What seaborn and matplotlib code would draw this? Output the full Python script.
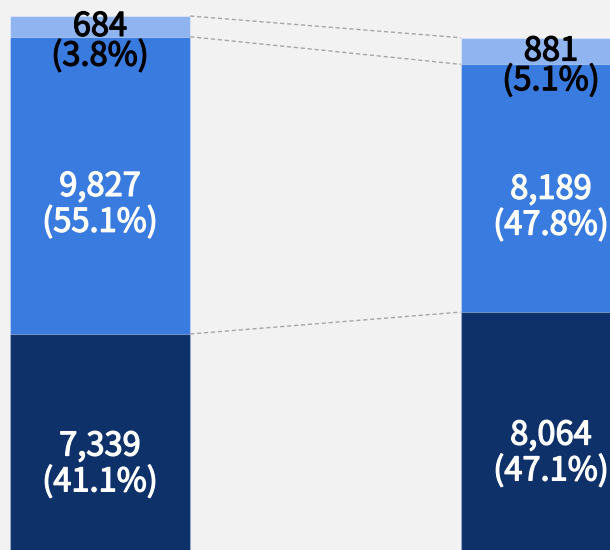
import numpy as np
import pandas as pd
import matplotlib
matplotlib.use('Agg')
import matplotlib.pyplot as plt
import matplotlib.patheffects as pe
import seaborn as sns

sns.set_style('white')
plt.rcParams['font.family'] = ['Noto Sans CJK JP', 'DejaVu Sans']

# 数据
categories = ['A', 'B']
bottom_vals = [7339, 8064]
mid_vals = [9827, 8189]
top_vals = [684, 881]

colors = {'top': '#8fb4ef', 'mid': '#3a7be0', 'bottom': '#0f3169'}
bg = '#f2f2f2'

df = pd.DataFrame({'cat': categories, 'bottom': bottom_vals,
                   'mid': mid_vals, 'top': top_vals})
df['c1'] = df['bottom']
df['c2'] = df['bottom'] + df['mid']
df['c3'] = df['c2'] + df['top']

fig = plt.figure(figsize=(6.1, 5.5), dpi=100)
fig.patch.set_facecolor(bg)
ax = fig.add_axes([0, 0, 1, 1])
ax.set_facecolor(bg)

edge = (1, 1, 1, 0.35)
# 累计高度叠加绘制
sns.barplot(data=df, x='cat', y='c3', color=colors['top'], width=0.4,
            edgecolor=edge, linewidth=0.8, saturation=1, ax=ax)
sns.barplot(data=df, x='cat', y='c2', color=colors['mid'], width=0.4,
            edgecolor=edge, linewidth=0.8, saturation=1, ax=ax)
sns.barplot(data=df, x='cat', y='c1', color=colors['bottom'], width=0.4,
            edgecolor=edge, linewidth=0.8, saturation=1, ax=ax)

# 连接虚线
for col in ['c1', 'c2', 'c3']:
    ax.plot([0.2, 0.8], df[col].values, color='#a6a6a6', lw=1,
            ls=(0, (3, 2)), zorder=5)

# 标签
for i, row in df.iterrows():
    total = row['c3']
    segs = [(row['bottom'], 0, 'white', 1.12, -14),
            (row['mid'], row['c1'], 'white', 1.12, -14),
            (row['top'], row['c2'], 'black', 0.88, -11)]
    for val, base, tc, ls, dy in segs:
        pct = val / total * 100
        ax.annotate(f'{val:,}\n({pct:.1f}%)', xy=(i, base + val / 2),
                    xytext=(0, dy), textcoords='offset points',
                    ha='center', va='center', fontsize=23.5,
                    color=tc, linespacing=ls, zorder=6,
                    path_effects=[pe.withStroke(linewidth=0.9, foreground=tc)])

ax.set_xlim(-0.2217, 1.1308)
ax.set_ylim(198, 18380)
ax.axis('off')

fig.savefig('out.png', dpi=100, facecolor=bg)
